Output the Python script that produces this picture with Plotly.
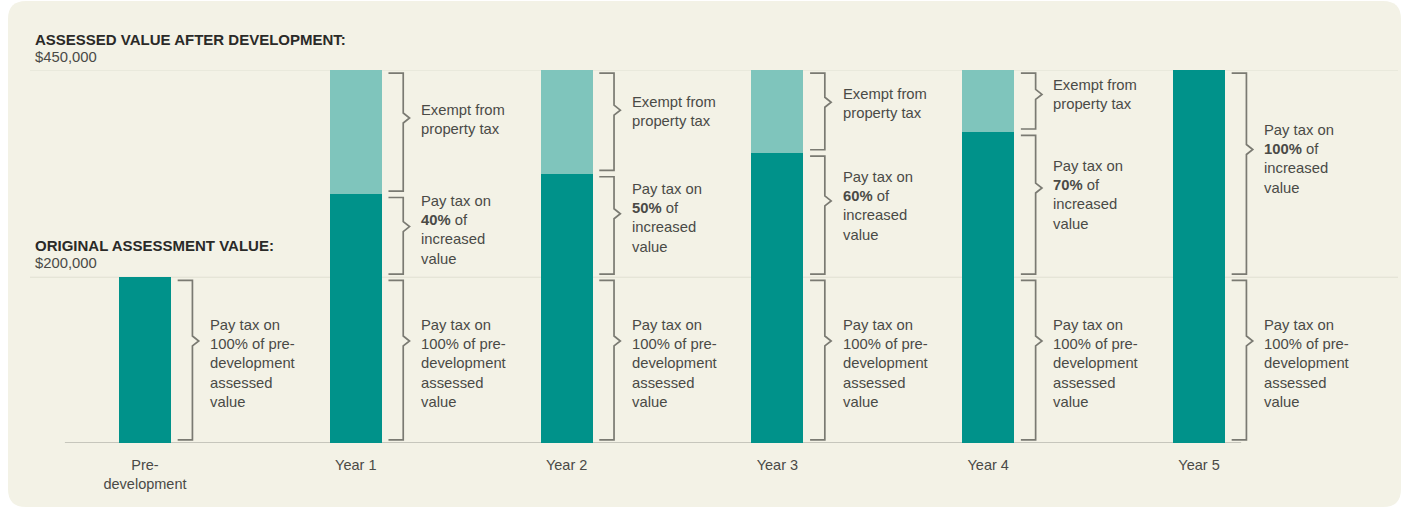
import plotly.graph_objects as go

# ---------------- data ----------------
categories = ["Pre-<br>development", "Year 1", "Year 2", "Year 3", "Year 4", "Year 5"]
original_value = [200000, 200000, 200000, 200000, 200000, 200000]
assessed_after = 450000
taxed_pct = [0, 40, 50, 60, 70, 100]
taxed_increase = [0, 100000, 125000, 150000, 175000, 250000]
exempt_increase = [0, 150000, 125000, 100000, 75000, 0]

base_label = "Pay tax on<br>100% of pre-<br>development<br>assessed<br>value"
exempt_label = "Exempt from<br>property tax"
taxed_label = "Pay tax on<br><b>{}%</b> of<br>increased<br>value"

# ---------------- styles ----------------
DARK = "#00928a"
LIGHT = "#7fc5bc"
CARD = "#f3f2e6"
BRACE = "#7a7a72"
TXT = "#4a4a46"
FONT = "Liberation Sans, Arial, sans-serif"
W, H = 1406, 510
BAR_W = 0.247

xs = list(range(len(categories)))

fig = go.Figure()

fig.add_trace(go.Bar(x=xs, y=original_value, width=BAR_W, marker=dict(color=DARK, line=dict(width=0)),
                     showlegend=False, hoverinfo="skip"))
fig.add_trace(go.Bar(x=xs, y=taxed_increase, width=BAR_W, marker=dict(color=DARK, line=dict(width=0)),
                     showlegend=False, hoverinfo="skip"))
fig.add_trace(go.Bar(x=xs, y=exempt_increase, width=BAR_W, marker=dict(color=LIGHT, line=dict(width=0)),
                     showlegend=False, hoverinfo="skip"))

# ---------------- braces & labels ----------------
bx, by = [], []
annotations = []
inset = 3800
tip = 6000


def brace(xc, lo, hi, text, text_frac):
    xa, xb, xp = xc + 0.155, xc + 0.225, xc + 0.255
    top, bot = hi - inset, lo + inset
    ym = top - 0.38 * (top - bot)
    bx.extend([xa, xb, xb, xp, xb, xb, xa, None])
    by.extend([top, top, ym + tip, ym, ym - tip, bot, bot, None])
    annotations.append(dict(x=xc + 0.30, y=hi - text_frac * (hi - lo), xref="x", yref="y",
                            text=text, showarrow=False, xanchor="left", yanchor="middle", align="left",
                            font=dict(family=FONT, size=14.8, color=TXT)))


for i, xc in enumerate(xs):
    base = original_value[i]
    brace(xc, 0, base, base_label, 0.52)
    if taxed_increase[i] > 0:
        brace(xc, base, base + taxed_increase[i], taxed_label.format(taxed_pct[i]), 0.43)
    if exempt_increase[i] > 0:
        top = base + taxed_increase[i]
        brace(xc, top, top + exempt_increase[i], exempt_label, 0.40)

fig.add_trace(go.Scatter(x=bx, y=by, mode="lines", line=dict(color=BRACE, width=1.7),
                         showlegend=False, hoverinfo="skip"))

# header labels
x_left = 33 / W
annotations += [
    dict(x=x_left, y=assessed_after, xref="paper", yref="y", text="<b>ASSESSED VALUE AFTER DEVELOPMENT:</b>",
         showarrow=False, xanchor="left", yanchor="bottom", yshift=20,
         font=dict(family=FONT, size=15, color="#2a2a28")),
    dict(x=x_left, y=assessed_after, xref="paper", yref="y", text="$450,000",
         showarrow=False, xanchor="left", yanchor="bottom", yshift=3,
         font=dict(family=FONT, size=14.8, color=TXT)),
    dict(x=x_left, y=original_value[0], xref="paper", yref="y", text="<b>ORIGINAL ASSESSMENT VALUE:</b>",
         showarrow=False, xanchor="left", yanchor="bottom", yshift=21,
         font=dict(family=FONT, size=15, color="#2a2a28")),
    dict(x=x_left, y=original_value[0], xref="paper", yref="y", text="$200,000",
         showarrow=False, xanchor="left", yanchor="bottom", yshift=4,
         font=dict(family=FONT, size=14.8, color=TXT)),
]

# ---------------- shapes ----------------
pt, pb = 70, 443
def px_to_paper_x(p):
    return p / W
def py_to_paper_y(p):
    return (pb - p) / (pb - pt)

x0, x1, y0, y1, r = 8, 1401, 1, 507, 18
X = px_to_paper_x
Y = py_to_paper_y
card_path = (
    f"M {X(x0 + r)} {Y(y0)} L {X(x1 - r)} {Y(y0)} Q {X(x1)} {Y(y0)} {X(x1)} {Y(y0 + r)} "
    f"L {X(x1)} {Y(y1 - r)} Q {X(x1)} {Y(y1)} {X(x1 - r)} {Y(y1)} "
    f"L {X(x0 + r)} {Y(y1)} Q {X(x0)} {Y(y1)} {X(x0)} {Y(y1 - r)} "
    f"L {X(x0)} {Y(y0 + r)} Q {X(x0)} {Y(y0)} {X(x0 + r)} {Y(y0)} Z"
)
shapes = [
    dict(type="path", path=card_path, xref="paper", yref="paper", fillcolor=CARD,
         line=dict(width=0), layer="below"),
    dict(type="line", xref="paper", yref="y", x0=30 / W, x1=1398 / W, y0=assessed_after, y1=assessed_after,
         line=dict(color="#e0dfd2", width=1), layer="below"),
    dict(type="line", xref="paper", yref="y", x0=30 / W, x1=1398 / W, y0=original_value[0], y1=original_value[0],
         line=dict(color="#e0dfd2", width=1), layer="below"),
    dict(type="line", xref="x", yref="y", x0=-0.38, x1=5.2, y0=0, y1=0,
         line=dict(color="#9a9a92", width=1.2), layer="below"),
]

unit = 210.8
xr0 = -145 / unit
xr1 = xr0 + W / unit

fig.update_layout(
    width=W, height=H,
    barmode="stack",
    bargap=0,
    paper_bgcolor="#ffffff",
    plot_bgcolor="rgba(0,0,0,0)",
    margin=dict(l=0, r=0, t=pt, b=H - pb),
    xaxis=dict(range=[xr0, xr1], tickvals=xs, ticktext=categories, showgrid=False, zeroline=False,
               showline=False, ticks="outside", ticklen=9, tickcolor="rgba(0,0,0,0)",
               tickfont=dict(family=FONT, size=14.5, color=TXT), fixedrange=True),
    yaxis=dict(range=[0, assessed_after], visible=False, showgrid=False, zeroline=False, fixedrange=True),
    annotations=annotations,
    shapes=shapes,
    showlegend=False,
)

fig.write_html("out.html")
